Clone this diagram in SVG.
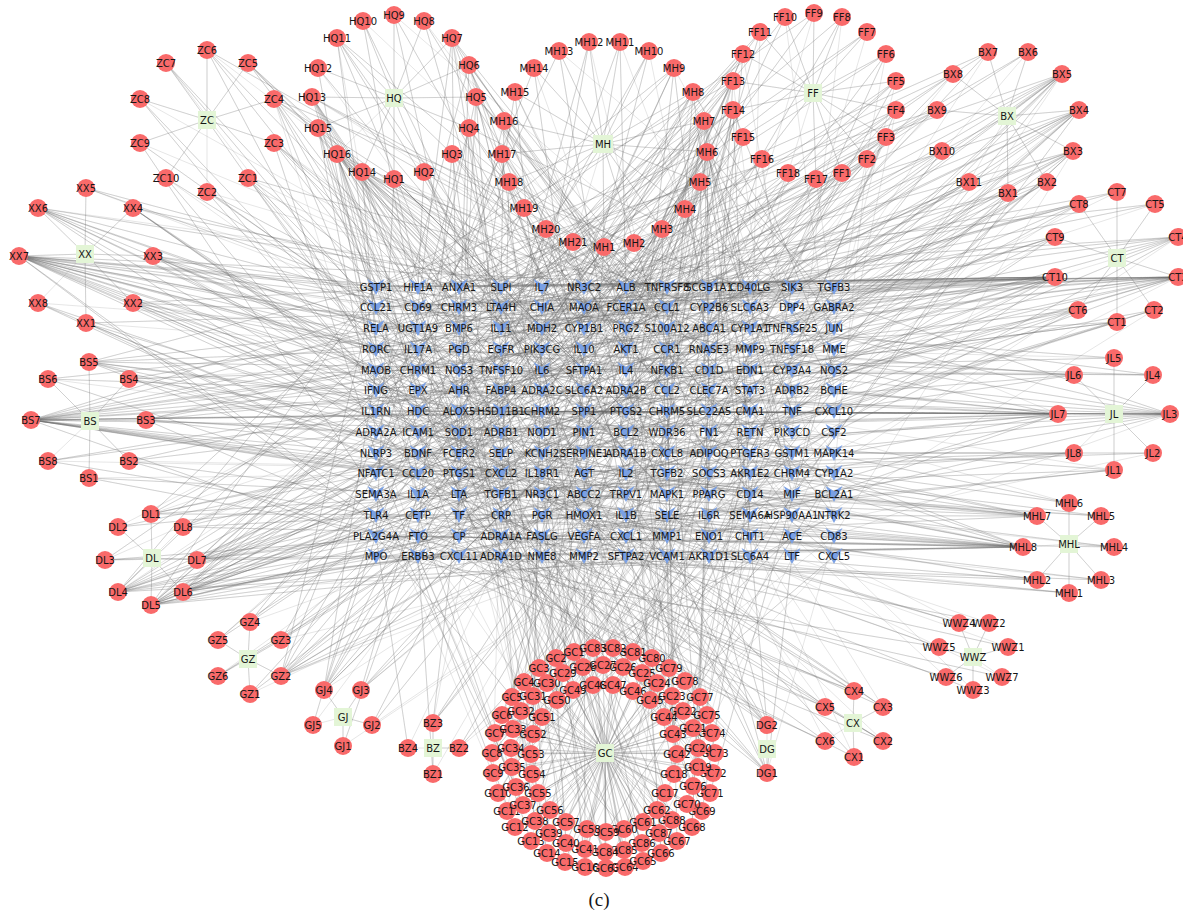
<svg xmlns="http://www.w3.org/2000/svg" xmlns:xlink="http://www.w3.org/1999/xlink" width="1183" height="913" viewBox="0 0 1183 913">
<style>
.e path{fill:none;stroke:#6e6e6e;stroke-opacity:.25;stroke-width:.7;stroke-linejoin:round}
circle{fill:#f96a6a}
.h rect{fill:#e3f5d6}
#v{fill:#7aa0e4}
text{font-family:"DejaVu Sans","Liberation Sans",sans-serif;font-size:10px;text-anchor:middle;fill:#161616}
.cap{font-family:"Liberation Serif",serif;font-size:19px}
</style>
<defs><polygon id="v" points="-8.5,-8 0,-3 8.5,-8 0,8"/></defs>
<rect width="1183" height="913" fill="#fff"/>
<g class="e" id="connectors">
<path d="M207 120L207 50 207 120 166 63 207 120 248 63 207 120 140 99 207 120 274 99 207 120 140 143 207 120 274 143 207 120 166 178 207 120 248 178 207 120 207 192"/>
<path d="M394 98L394 179 394 98 424 172 394 98 452 154 394 98 469 128 394 98 476 97 394 98 469 65 394 98 452 38 394 98 424 21 394 98 394 15 394 98 363 21 394 98 337 38 394 98 318 68 394 98 312 97 394 98 362 172 394 98 318 128 394 98 337 154"/>
<path d="M603 144L604 247 603 144 634 243 603 144 662 229 603 144 685 209 603 144 700 182 603 144 707 152 603 144 704 121 603 144 693 92 603 144 674 68 603 144 649 51 603 144 620 42 603 144 589 42 603 144 559 51 603 144 534 68 603 144 515 92 603 144 504 121 603 144 502 154 603 144 509 182 603 144 524 208 603 144 546 229 603 144 573 242"/>
<path d="M813 93L842 173 813 93 867 159 813 93 886 137 813 93 896 110 813 93 896 81 813 93 886 54 813 93 867 32 813 93 842 17 813 93 814 13 813 93 785 17 813 93 760 32 813 93 743 54 813 93 733 81 813 93 733 110 813 93 743 137 813 93 762 159 813 93 816 179 813 93 788 173"/>
<path d="M1007 116L1008 193 1007 116 1047 182 1007 116 1073 151 1007 116 1079 110 1007 116 1062 74 1007 116 1028 52 1007 116 988 52 1007 116 953 74 1007 116 937 110 1007 116 942 151 1007 116 969 182"/>
<path d="M85 254L86 323 85 254 133 303 85 254 153 256 85 254 133 208 85 254 86 188 85 254 38 208 85 254 19 256 85 254 38 303"/>
<path d="M90 421L89 478 90 421 129 461 90 421 146 420 90 421 129 379 90 421 89 362 90 421 48 379 90 421 31 420 90 421 48 461"/>
<path d="M152 558L151 514 152 558 118 527 152 558 105 560 152 558 118 592 152 558 151 605 152 558 183 592 152 558 197 560 152 558 183 527"/>
<path d="M1117 258L1117 322 1117 258 1154 310 1117 258 1178 277 1117 258 1178 237 1117 258 1155 204 1117 258 1078 310 1117 258 1117 192 1117 258 1079 204 1117 258 1055 237 1117 258 1055 277"/>
<path d="M1114 414L1114 470 1114 414 1153 453 1114 414 1170 414 1114 414 1153 375 1114 414 1114 358 1114 414 1074 375 1114 414 1058 414 1114 414 1074 453"/>
<path d="M1069 544L1069 593 1069 544 1037 580 1069 544 1101 580 1069 544 1114 547 1069 544 1101 516 1069 544 1069 503 1069 544 1037 516 1069 544 1023 547"/>
<path d="M973 657L1008 647 973 657 989 623 973 657 973 690 973 657 959 623 973 657 939 647 973 657 946 677 973 657 1002 677"/>
<path d="M853 723L854 757 853 723 883 741 853 723 883 707 853 723 854 691 853 723 825 707 853 723 825 741"/>
<path d="M767 749L767 773 767 749 767 725"/>
<path d="M248 659L250 694 248 659 281 676 248 659 281 640 248 659 250 622 248 659 218 640 248 659 218 676"/>
<path d="M343 717L343 746 343 717 372 725 343 717 361 690 343 717 324 690 343 717 313 725"/>
<path d="M433 748L433 774 433 748 459 748 433 748 433 723 433 748 408 748"/>
<path d="M605 753L574 652 605 753 556 658 605 753 539 668 605 753 524 682 605 753 512 697 605 753 502 715 605 753 495 733 605 753 492 753 605 753 493 773 605 753 498 793 605 753 507 811 605 753 515 827 605 753 531 841 605 753 547 853 605 753 565 862 605 753 585 867 605 753 665 793 605 753 674 774 605 753 698 767 605 753 698 748 605 753 693 728 605 753 683 711 605 753 672 696 605 753 657 683 605 753 642 673 605 753 623 667 605 753 603 665 605 753 583 667 605 753 563 673 605 753 547 683 605 753 533 696 605 753 521 711 605 753 513 729 605 753 511 748 605 753 512 767 605 753 516 787 605 753 523 805 605 753 535 821 605 753 549 833 605 753 566 843 605 753 585 849 605 753 677 754 605 753 673 734 605 753 664 717 605 753 650 700 605 753 633 691 605 753 613 685 605 753 593 685 605 753 573 690 605 753 557 700 605 753 542 717 605 753 533 734 605 753 531 754 605 753 532 774 605 753 538 793 605 753 550 810 605 753 566 822 605 753 587 829 605 753 606 832 605 753 624 829 605 753 643 822 605 753 657 810 605 753 606 868 605 753 625 867 605 753 643 861 605 753 661 853 605 753 677 841 605 753 692 827 605 753 702 811 605 753 687 804 605 753 710 793 605 753 713 773 605 753 715 753 605 753 712 733 605 753 707 715 605 753 693 786 605 753 700 697 605 753 685 681 605 753 669 668 605 753 652 658 605 753 633 652 605 753 613 648 605 753 593 648 605 753 605 852 605 753 624 850 605 753 642 843 605 753 659 833 605 753 672 820"/>
<path d="M19 256L376 287 19 256 418 328 19 256 459 370 19 256 501 411 19 256 542 453 19 256 584 494 19 256 626 536 19 256 667 307 19 256 709 349 19 256 750 390 19 256 792 432 19 256 834 473 19 256 376 515 19 256 418 556 19 256 459 307 19 256 501 349 19 256 542 390 19 256 584 432 19 256 626 473 19 256 667 515 19 256 709 556 19 256 750 287 19 256 792 328 19 256 834 370"/>
<path d="M38 208L376 328 38 208 418 390 38 208 459 453 38 208 501 515 38 208 542 287 38 208 584 349 38 208 626 411 38 208 667 473 38 208 709 536 38 208 750 307"/>
<path d="M153 256L418 307 153 256 501 411 153 256 584 515 153 256 667 328 153 256 750 432 153 256 834 536 153 256 418 349 153 256 501 453"/>
<path d="M133 208L376 370 133 208 459 432 133 208 542 494 133 208 626 556 133 208 709 328 133 208 792 390"/>
<path d="M133 303L418 287 133 303 501 370 133 303 584 453 133 303 667 536 133 303 750 328 133 303 834 411"/>
<path d="M86 323L376 411 86 323 459 473 86 323 542 536 86 323 626 307 86 323 709 370"/>
<path d="M38 303L418 432 38 303 501 494 38 303 584 556 38 303 667 349"/>
<path d="M86 188L459 287 86 188 542 349 86 188 626 390"/>
<path d="M31 420L376 370 31 420 418 473 31 420 459 287 31 420 501 390 31 420 542 494 31 420 584 307 31 420 626 411 31 420 667 515 31 420 709 328 31 420 750 432 31 420 792 536 31 420 834 349 31 420 376 453 31 420 418 556 31 420 459 370 31 420 501 473 31 420 542 287 31 420 584 390 31 420 626 494 31 420 667 307 31 420 709 411 31 420 750 515 31 420 834 411 31 420 792 411"/>
<path d="M89 362L376 287 89 362 418 349 89 362 459 411 89 362 501 473 89 362 542 536 89 362 584 307 89 362 626 370 89 362 667 432 89 362 709 494 89 362 750 556"/>
<path d="M146 420L376 432 146 420 459 390 146 420 542 349 146 420 626 307 146 420 709 453 146 420 792 494 146 420 418 536 146 420 501 328"/>
<path d="M129 379L418 370 129 379 501 432 129 379 584 494 129 379 667 287 129 379 750 349"/>
<path d="M48 379L376 390 48 379 459 515 48 379 542 328 48 379 626 453"/>
<path d="M129 461L376 494 129 461 459 556 129 461 542 411 129 461 626 349 129 461 709 473"/>
<path d="M48 461L418 411 48 461 501 536 48 461 584 370 48 461 667 473"/>
<path d="M89 478L418 494 89 478 501 556 89 478 584 473"/>
<path d="M151 605L376 411 151 605 418 473 151 605 459 536 151 605 501 307 151 605 542 370 151 605 584 432 151 605 626 494 151 605 667 556 151 605 709 328 151 605 750 390 151 605 792 453 151 605 834 515 151 605 376 287 151 605 418 349 151 605 459 411 151 605 501 473 151 605 542 536 151 605 584 307"/>
<path d="M118 592L376 494 118 592 418 307 118 592 459 411 118 592 501 515 118 592 542 328 118 592 584 432 118 592 626 536 118 592 667 349 118 592 709 453 118 592 750 556 118 592 792 370 118 592 834 473 118 592 376 287 118 592 418 390"/>
<path d="M183 592L834 328 183 592 792 390 183 592 750 453 183 592 709 515 183 592 667 287 183 592 626 349 183 592 584 411 183 592 542 473 183 592 501 536 183 592 459 307 183 592 418 370 183 592 376 432 183 592 834 494 183 592 792 556"/>
<path d="M197 560L376 536 197 560 418 453 197 560 459 328 197 560 501 494 197 560 542 556 197 560 584 515 197 560 626 432 197 560 667 370 197 560 709 287 197 560 750 473"/>
<path d="M151 514L376 307 151 514 459 349 151 514 542 432 151 514 626 515 151 514 709 390 151 514 792 473 151 514 834 287"/>
<path d="M183 527L418 515 183 527 501 390 183 527 584 536 183 527 667 411 183 527 750 307"/>
<path d="M118 527L376 473 118 527 459 494 118 527 542 307"/>
<path d="M105 560L376 556 105 560 418 536 105 560 501 287 105 560 584 349"/>
<path d="M274 99L376 349 274 99 459 432 274 99 542 515 274 99 626 328 274 99 709 411 274 99 792 307 274 99 418 556"/>
<path d="M274 143L376 453 274 143 418 328 274 143 501 370 274 143 584 411 274 143 667 453 274 143 750 494"/>
<path d="M248 178L376 328 248 178 459 473 248 178 542 390 248 178 626 556 248 178 501 515 248 178 709 307 248 178 834 453"/>
<path d="M248 63L418 287 248 63 501 328 248 63 584 370 248 63 667 494 248 63 750 536"/>
<path d="M207 50L376 370 207 50 459 307 207 50 542 473 207 50 626 287 207 50 709 432"/>
<path d="M207 192L418 432 207 192 501 349 207 192 584 453 207 192 667 328"/>
<path d="M166 63L376 287 166 63 459 411 166 63 542 556"/>
<path d="M140 99L418 390 140 99 501 536 140 99 626 370"/>
<path d="M140 143L376 494 140 143 459 370 140 143 584 328"/>
<path d="M166 178L418 473 166 178 542 411 166 178 667 536"/>
<path d="M337 154L376 287 337 154 418 390 337 154 459 494 337 154 501 307 337 154 542 411 337 154 584 515 337 154 626 328 337 154 667 432 337 154 709 536 337 154 750 349 337 154 792 453 337 154 834 556 337 154 376 370 337 154 418 473 337 154 459 287 337 154 501 390"/>
<path d="M362 172L376 349 362 172 418 411 362 172 459 473 362 172 501 536 362 172 542 307 362 172 584 370 362 172 626 432 362 172 667 494 362 172 709 556 362 172 750 328 362 172 792 390 362 172 834 453"/>
<path d="M312 97L376 307 312 97 418 349 312 97 459 390 312 97 501 432 312 97 542 473 312 97 584 515 312 97 626 556 312 97 667 287 312 97 709 328 312 97 750 370"/>
<path d="M452 38L418 307 452 38 501 349 452 38 584 390 452 38 667 432 452 38 750 473 452 38 834 515 452 38 459 536 452 38 542 453"/>
<path d="M469 65L376 411 469 65 459 349 469 65 542 287 469 65 626 473 469 65 709 390 469 65 792 515 469 65 584 556"/>
<path d="M476 97L418 370 476 97 501 453 476 97 584 536 476 97 667 328 476 97 750 411 476 97 834 494 476 97 459 432 476 97 626 307"/>
<path d="M469 128L376 473 469 128 459 515 469 128 542 556 469 128 626 370 469 128 709 453 469 128 792 287 469 128 501 411"/>
<path d="M452 154L418 536 452 154 501 494 452 154 584 328 452 154 667 390 452 154 750 432 452 154 834 349 452 154 542 370"/>
<path d="M394 179L376 536 394 179 459 453 394 179 542 328 394 179 626 411 394 179 709 494 394 179 792 349"/>
<path d="M424 172L418 287 424 172 501 328 424 172 584 473 424 172 667 556 424 172 750 307"/>
<path d="M337 38L376 328 337 38 459 328 337 38 542 370 337 38 626 453 337 38 709 349 337 38 418 515"/>
<path d="M318 68L376 390 318 68 501 287 318 68 584 432"/>
<path d="M318 128L376 432 318 128 418 494 318 128 459 556 318 128 542 494 318 128 626 536"/>
<path d="M394 15L459 307 394 15 584 349 394 15 709 287"/>
<path d="M363 21L418 328 363 21 542 390 363 21 667 307"/>
<path d="M424 21L501 287 424 21 626 349 424 21 750 453"/>
<path d="M707 152L834 307 707 152 792 411 707 152 750 515 707 152 709 328 707 152 667 432 707 152 626 536 707 152 584 349 707 152 542 453 707 152 501 556 707 152 459 370 707 152 418 473 707 152 376 287 707 152 834 390 707 152 792 494 707 152 750 307 707 152 709 411"/>
<path d="M704 121L376 349 704 121 418 390 704 121 459 432 704 121 501 473 704 121 542 515 704 121 584 556 704 121 626 307 704 121 667 349 704 121 709 390 704 121 750 432 704 121 792 473 704 121 834 515"/>
<path d="M700 182L376 453 700 182 459 328 700 182 542 494 700 182 626 370 700 182 709 536 700 182 792 411 700 182 418 287 700 182 501 411 700 182 584 536 700 182 667 328"/>
<path d="M685 209L376 515 685 209 459 390 685 209 542 556 685 209 626 432 685 209 709 307 685 209 792 473 685 209 834 349 685 209 501 349"/>
<path d="M693 92L418 411 693 92 501 494 693 92 584 287 693 92 667 453 693 92 750 536 693 92 834 328 693 92 459 473 693 92 626 390"/>
<path d="M674 68L376 307 674 68 459 536 674 68 542 349 674 68 626 494 674 68 709 370 674 68 792 287"/>
<path d="M662 229L418 515 662 229 501 307 662 229 584 473 662 229 667 556 662 229 750 411 662 229 834 453"/>
<path d="M634 243L376 556 634 243 459 494 634 243 542 432 634 243 709 473 634 243 792 328"/>
<path d="M604 247L418 453 604 247 501 390 604 247 584 494 604 247 667 536 604 247 750 370"/>
<path d="M573 242L376 328 573 242 459 411 573 242 542 328 573 242 626 515 573 242 834 536"/>
<path d="M546 229L418 556 546 229 501 432 546 229 584 370 546 229 667 473 546 229 750 287"/>
<path d="M524 208L376 411 524 208 459 349 524 208 626 473 524 208 709 515"/>
<path d="M509 182L418 328 509 182 501 536 509 182 584 411 509 182 667 494 509 182 792 370"/>
<path d="M502 154L376 390 502 154 542 473 502 154 626 349 502 154 709 453 502 154 834 556"/>
<path d="M504 121L418 494 504 121 501 287 504 121 584 328 504 121 750 494 504 121 792 536"/>
<path d="M515 92L459 453 515 92 542 370 515 92 667 411 515 92 750 556"/>
<path d="M534 68L376 473 534 68 584 432 534 68 709 556"/>
<path d="M559 51L418 349 559 51 626 453 559 51 834 287"/>
<path d="M589 42L459 515 589 42 542 307 589 42 667 370"/>
<path d="M620 42L501 370 620 42 626 287 620 42 750 390"/>
<path d="M649 51L376 536 649 51 584 307 649 51 709 349"/>
<path d="M733 81L376 287 733 81 418 370 733 81 459 453 733 81 501 536 733 81 542 328 733 81 584 411 733 81 626 494 733 81 667 287 733 81 709 473 733 81 792 556"/>
<path d="M733 110L376 390 733 110 459 307 733 110 501 494 733 110 584 349 733 110 626 556 733 110 667 411 733 110 750 515 733 110 834 370 733 110 418 536"/>
<path d="M743 54L376 494 743 54 459 370 743 54 542 536 743 54 626 328 743 54 709 432 743 54 792 349"/>
<path d="M842 173L418 307 842 173 501 515 842 173 584 390 842 173 667 515 842 173 750 328"/>
<path d="M867 159L376 432 867 159 459 556 867 159 542 390 867 159 626 411 867 159 709 287 867 159 834 473"/>
<path d="M886 137L418 473 886 137 501 349 886 137 584 515 886 137 667 307 886 137 750 453 886 137 792 307"/>
<path d="M896 110L376 349 896 110 459 432 896 110 542 515 896 110 709 556 896 110 834 411"/>
<path d="M896 81L418 411 896 81 501 453 896 81 626 307 896 81 750 349 896 81 792 494"/>
<path d="M886 54L459 328 886 54 584 453 886 54 667 536 886 54 834 328"/>
<path d="M867 32L376 370 867 32 542 287 867 32 750 432"/>
<path d="M842 17L501 307 842 17 626 390 842 17 792 432"/>
<path d="M814 13L418 287 814 13 584 328 814 13 709 370"/>
<path d="M785 17L459 411 785 17 626 349 785 17 834 390"/>
<path d="M760 32L376 453 760 32 501 390 760 32 667 349 760 32 750 411"/>
<path d="M743 137L418 556 743 137 542 432 743 137 626 473 743 137 709 328"/>
<path d="M762 159L376 536 762 159 459 473 762 159 542 349 762 159 667 453 762 159 792 390"/>
<path d="M816 179L501 556 816 179 584 494 816 179 709 411 816 179 834 307"/>
<path d="M788 173L418 349 788 173 542 473 788 173 626 536 788 173 750 307"/>
<path d="M1062 74L376 307 1062 74 418 370 1062 74 459 432 1062 74 501 494 1062 74 542 556 1062 74 584 328 1062 74 626 390 1062 74 667 453 1062 74 709 515 1062 74 750 287 1062 74 792 349 1062 74 834 411"/>
<path d="M1079 110L376 328 1079 110 418 432 1079 110 459 536 1079 110 501 349 1079 110 542 453 1079 110 584 556 1079 110 626 370 1079 110 667 473 1079 110 709 287 1079 110 750 390 1079 110 792 494 1079 110 834 307"/>
<path d="M1073 151L376 411 1073 151 418 515 1073 151 501 307 1073 151 542 411 1073 151 584 515 1073 151 626 307 1073 151 667 390 1073 151 709 494 1073 151 792 411 1073 151 834 536"/>
<path d="M1047 182L376 473 1047 182 459 349 1047 182 542 494 1047 182 626 432 1047 182 709 370 1047 182 792 453"/>
<path d="M1008 193L418 328 1008 193 501 390 1008 193 584 473 1008 193 667 515 1008 193 750 556 1008 193 834 349"/>
<path d="M969 182L376 556 969 182 459 494 969 182 584 370 969 182 667 328 969 182 750 473"/>
<path d="M942 151L418 390 942 151 501 473 942 151 626 328 942 151 709 453 942 151 792 287"/>
<path d="M937 110L376 287 937 110 459 390 937 110 542 307 937 110 667 370"/>
<path d="M953 74L418 453 953 74 501 287 953 74 626 411 953 74 750 328"/>
<path d="M988 52L459 287 988 52 584 307 988 52 709 349 988 52 834 287"/>
<path d="M1028 52L542 370 1028 52 626 287 1028 52 792 328"/>
<path d="M1055 277L376 287 1055 277 418 287 1055 277 459 287 1055 277 501 287 1055 277 542 287 1055 277 376 307 1055 277 418 307 1055 277 501 307 1055 277 584 307 1055 277 376 328 1055 277 459 328 1055 277 542 349 1055 277 626 349 1055 277 418 370 1055 277 501 390 1055 277 584 411 1055 277 667 432 1055 277 459 453 1055 277 542 473 1055 277 626 494 1055 277 709 515 1055 277 501 536"/>
<path d="M1178 277L376 287 1178 277 459 287 1178 277 584 287 1178 277 667 287 1178 277 376 307 1178 277 459 307 1178 277 542 307 1178 277 418 328 1178 277 501 328 1178 277 584 349 1178 277 376 370 1178 277 459 390 1178 277 542 411 1178 277 626 432 1178 277 418 453 1178 277 501 473 1178 277 584 494 1178 277 667 536"/>
<path d="M1178 237L376 287 1178 237 418 307 1178 237 501 328 1178 237 542 370 1178 237 626 390 1178 237 709 432 1178 237 750 473 1178 237 792 494"/>
<path d="M1079 204L376 349 1079 204 459 370 1079 204 542 432 1079 204 626 453 1079 204 709 307 1079 204 792 390"/>
<path d="M1055 237L418 349 1055 237 501 411 1055 237 584 453 1055 237 667 494 1055 237 750 328 1055 237 834 370"/>
<path d="M1078 310L376 390 1078 310 459 432 1078 310 542 494 1078 310 626 536 1078 310 709 411 1078 310 792 307"/>
<path d="M1117 322L418 411 1117 322 501 515 1117 322 584 390 1117 322 667 349 1117 322 750 432"/>
<path d="M1154 310L376 453 1154 310 459 515 1154 310 626 473 1154 310 792 536"/>
<path d="M1155 204L418 287 1155 204 542 328 1155 204 709 349"/>
<path d="M1117 192L501 307 1117 192 626 328 1117 192 750 370"/>
<path d="M1170 414L376 411 1170 414 418 411 1170 414 459 411 1170 414 501 411 1170 414 376 390 1170 414 418 432 1170 414 459 370 1170 414 501 453 1170 414 542 349 1170 414 584 473 1170 414 626 328 1170 414 667 494 1170 414 709 307 1170 414 750 515 1170 414 792 287 1170 414 834 536"/>
<path d="M1058 414L376 432 1058 414 418 390 1058 414 459 411 1058 414 501 432 1058 414 542 390 1058 414 584 411 1058 414 376 411 1058 414 418 473 1058 414 459 349 1058 414 501 515 1058 414 542 307 1058 414 584 556 1058 414 626 370 1058 414 667 453 1058 414 709 536 1058 414 750 287"/>
<path d="M1074 375L376 370 1074 375 459 328 1074 375 542 453 1074 375 626 411 1074 375 709 349"/>
<path d="M1074 453L376 473 1074 453 459 494 1074 453 542 536 1074 453 626 453 1074 453 709 473"/>
<path d="M1114 470L418 494 1114 470 501 536 1114 470 584 432 1114 470 667 515 1114 470 750 411"/>
<path d="M1114 358L418 307 1114 358 584 370 1114 358 750 349"/>
<path d="M1153 375L376 349 1153 375 501 370 1153 375 626 307 1153 375 792 370"/>
<path d="M1153 453L418 453 1153 453 542 473 1153 453 667 556"/>
<path d="M1023 547L376 494 1023 547 376 515 1023 547 376 536 1023 547 376 556 1023 547 418 515 1023 547 418 536 1023 547 459 494 1023 547 459 556 1023 547 501 515 1023 547 501 556 1023 547 542 536 1023 547 584 494 1023 547 584 515 1023 547 626 556 1023 547 418 432 1023 547 459 390 1023 547 501 349 1023 547 542 453 1023 547 626 411 1023 547 667 473"/>
<path d="M1037 516L376 453 1037 516 418 473 1037 516 459 515 1037 516 501 494 1037 516 542 473 1037 516 584 536 1037 516 376 390 1037 516 459 432 1037 516 542 411 1037 516 626 473"/>
<path d="M1037 580L376 556 1037 580 501 536 1037 580 626 515 1037 580 750 536"/>
<path d="M1101 580L418 556 1101 580 542 515 1101 580 667 536"/>
<path d="M1101 516L459 473 1101 516 584 453 1101 516 709 494"/>
<path d="M1069 503L418 370 1069 503 542 432 1069 503 667 390"/>
<path d="M1114 547L376 536 1114 547 501 473 1114 547 626 494"/>
<path d="M1069 593L459 536 1069 593 584 556 1069 593 709 556"/>
<path d="M959 623L459 473 959 623 584 515 959 623 709 494"/>
<path d="M989 623L542 536 989 623 667 515"/>
<path d="M939 647L376 556 939 647 501 494 939 647 626 536"/>
<path d="M1008 647L418 515 1008 647 750 556"/>
<path d="M946 677L542 556 946 677 792 536"/>
<path d="M1002 677L459 556 1002 677 709 536"/>
<path d="M973 690L584 536 973 690 834 556"/>
<path d="M854 691L376 515 854 691 459 536 854 691 542 494 854 691 626 556 854 691 709 473"/>
<path d="M825 707L418 536 825 707 501 556 825 707 584 515 825 707 667 494"/>
<path d="M883 707L459 515 883 707 542 473 883 707 626 536 883 707 750 494"/>
<path d="M883 741L376 536 883 741 501 515 883 741 584 556 883 741 667 536"/>
<path d="M825 741L418 556 825 741 542 536 825 741 709 515"/>
<path d="M854 757L459 556 854 757 626 515 854 757 750 536"/>
<path d="M767 725L376 453 767 725 459 473 767 725 542 494 767 725 584 515 767 725 626 536 767 725 667 556 767 725 709 515 767 725 750 536 767 725 501 432"/>
<path d="M767 773L418 494 767 773 501 515 767 773 542 536 767 773 584 556 767 773 626 494 767 773 667 536 767 773 709 556 767 773 792 556 767 773 834 536"/>
<path d="M281 676L376 287 281 676 418 328 281 676 459 370 281 676 501 411 281 676 542 453 281 676 584 494 281 676 626 536 281 676 667 307 281 676 709 349 281 676 750 390 281 676 792 432 281 676 834 473"/>
<path d="M281 640L376 473 281 640 459 515 281 640 542 390 281 640 626 432 281 640 709 536"/>
<path d="M250 622L418 411 250 622 501 453 250 622 584 328 250 622 667 473"/>
<path d="M218 640L376 536 218 640 459 432 218 640 542 349"/>
<path d="M218 676L418 556 218 676 501 494 218 676 584 411"/>
<path d="M250 694L376 556 250 694 459 536 250 694 626 515"/>
<path d="M324 690L376 370 324 690 418 411 324 690 459 453 324 690 501 328 324 690 542 432 324 690 584 287 324 690 626 390 324 690 667 349 324 690 750 411"/>
<path d="M361 690L418 494 361 690 501 536 361 690 584 473 361 690 667 432 361 690 750 370"/>
<path d="M372 725L459 556 372 725 542 515 372 725 709 494"/>
<path d="M313 725L376 515 313 725 501 473"/>
<path d="M343 746L418 536 343 746 626 556"/>
<path d="M433 723L459 494 433 723 542 556 433 723 626 473 433 723 709 390 433 723 501 370"/>
<path d="M459 748L584 536 459 748 667 515 459 748 792 473"/>
<path d="M408 748L376 536 408 748 501 556"/>
<path d="M433 774L418 556 433 774 584 515"/>
<path d="M574 652L418 349 574 652 667 515"/>
<path d="M556 658L459 411 556 658 459 328"/>
<path d="M539 668L501 473 539 668 750 432"/>
<path d="M524 682L542 536 524 682 584 536"/>
<path d="M512 697L584 307 512 697 834 349"/>
<path d="M502 715L626 370 502 715 626 453"/>
<path d="M495 733L667 432 495 733 418 556"/>
<path d="M492 753L709 494 492 753 709 370"/>
<path d="M493 773L750 556 493 773 501 473"/>
<path d="M498 793L792 328 498 793 792 287"/>
<path d="M507 811L834 390 507 811 584 390"/>
<path d="M515 827L376 453 515 827 376 494"/>
<path d="M531 841L418 515 531 841 667 307"/>
<path d="M547 853L459 287 547 853 459 411"/>
<path d="M565 862L501 349 565 862 750 515"/>
<path d="M585 867L542 411 585 867 542 328"/>
<path d="M665 793L584 473 665 793 834 432"/>
<path d="M674 774L626 536 674 774 667 536"/>
<path d="M698 767L667 307 698 767 418 349"/>
<path d="M698 748L709 370 698 748 709 453"/>
<path d="M693 728L750 432 693 728 501 556"/>
<path d="M683 711L792 494 683 711 792 370"/>
<path d="M672 696L834 556 672 696 584 473"/>
<path d="M657 683L376 328 657 683 376 287"/>
<path d="M642 673L418 390 642 673 667 390"/>
<path d="M623 667L459 453 623 667 459 494"/>
<path d="M603 665L501 515 603 665 750 307"/>
<path d="M583 667L542 287 583 667 542 411"/>
<path d="M563 673L584 349 563 673 834 515"/>
<path d="M547 683L626 411 547 683 626 328"/>
<path d="M533 696L667 473 533 696 418 432"/>
<path d="M521 711L709 536 521 711 750 536"/>
<path d="M513 729L750 307 513 729 501 349"/>
<path d="M511 748L792 370 511 748 792 453"/>
<path d="M512 767L834 432 512 767 584 556"/>
<path d="M516 787L376 494 516 787 376 370"/>
<path d="M523 805L418 556 523 805 667 473"/>
<path d="M535 821L459 328 535 821 459 287"/>
<path d="M549 833L501 390 549 833 750 390"/>
<path d="M566 843L542 453 566 843 542 494"/>
<path d="M585 849L584 515 585 849 834 307"/>
<path d="M677 754L626 287 677 754 626 411"/>
<path d="M673 734L667 349 673 734 418 515"/>
<path d="M664 717L709 411 664 717 709 328"/>
<path d="M650 700L750 473 650 700 501 432"/>
<path d="M633 691L792 536 633 691 834 536"/>
<path d="M613 685L834 307 613 685 584 349"/>
<path d="M593 685L376 370 593 685 376 453"/>
<path d="M573 690L418 432 573 690 667 556"/>
<path d="M557 700L459 494 557 700 459 370"/>
<path d="M542 717L501 556 542 717 750 473"/>
<path d="M533 734L542 328 533 734 542 287"/>
<path d="M531 754L584 390 531 754 834 390"/>
<path d="M532 774L626 453 532 774 626 494"/>
<path d="M538 793L667 515 538 793 418 307"/>
<path d="M550 810L709 287 550 810 709 411"/>
<path d="M566 822L750 349 566 822 501 515"/>
<path d="M587 829L792 411 587 829 792 328"/>
<path d="M606 832L834 473 606 832 584 432"/>
<path d="M624 829L376 536 624 829 418 536"/>
<path d="M643 822L418 307 643 822 667 349"/>
<path d="M657 810L459 370 657 810 459 453"/>
<path d="M606 868L501 432 606 868 750 556"/>
<path d="M625 867L542 494 625 867 542 370"/>
<path d="M643 861L584 556 643 861 834 473"/>
<path d="M661 853L626 328 661 853 626 287"/>
<path d="M677 841L667 390 677 841 418 390"/>
<path d="M692 827L709 453 692 827 709 494"/>
<path d="M702 811L750 515 702 811 501 307"/>
<path d="M687 804L792 287 687 804 792 411"/>
<path d="M710 793L834 349 710 793 584 515"/>
<path d="M713 773L376 411 713 773 376 328"/>
<path d="M715 753L418 473 715 753 667 432"/>
<path d="M712 733L459 536 712 733 501 536"/>
<path d="M707 715L501 307 707 715 750 349"/>
<path d="M693 786L542 370 693 786 542 453"/>
<path d="M700 697L584 432 700 697 834 556"/>
<path d="M685 681L626 494 685 681 626 370"/>
<path d="M669 668L667 556 669 668 418 473"/>
<path d="M652 658L709 328 652 658 709 287"/>
<path d="M633 652L750 390 633 652 501 390"/>
<path d="M613 648L792 453 613 648 792 494"/>
<path d="M593 648L834 515 593 648 584 307"/>
<path d="M605 852L376 287 605 852 376 411"/>
<path d="M624 850L418 349 624 850 667 515"/>
<path d="M642 843L459 411 642 843 459 328"/>
<path d="M659 833L501 473 659 833 750 432"/>
<path d="M672 820L542 536 672 820 584 536"/>
</g>
<g id="targets">
<g id="t-GSTP1" transform="translate(376,287)"><use href="#v"/><text y="3.5">GSTP1</text></g>
<g id="t-HIF1A" transform="translate(418,287)"><use href="#v"/><text y="3.5">HIF1A</text></g>
<g id="t-ANXA1" transform="translate(459,287)"><use href="#v"/><text y="3.5">ANXA1</text></g>
<g id="t-SLPI" transform="translate(501,287)"><use href="#v"/><text y="3.5">SLPI</text></g>
<g id="t-IL7" transform="translate(542,287)"><use href="#v"/><text y="3.5">IL7</text></g>
<g id="t-NR3C2" transform="translate(584,287)"><use href="#v"/><text y="3.5">NR3C2</text></g>
<g id="t-ALB" transform="translate(626,287)"><use href="#v"/><text y="3.5">ALB</text></g>
<g id="t-TNFRSF8" transform="translate(667,287)"><use href="#v"/><text y="3.5">TNFRSF8</text></g>
<g id="t-SCGB1A1" transform="translate(709,287)"><use href="#v"/><text y="3.5">SCGB1A1</text></g>
<g id="t-CD40LG" transform="translate(750,287)"><use href="#v"/><text y="3.5">CD40LG</text></g>
<g id="t-SIK3" transform="translate(792,287)"><use href="#v"/><text y="3.5">SIK3</text></g>
<g id="t-TGFB3" transform="translate(834,287)"><use href="#v"/><text y="3.5">TGFB3</text></g>
<g id="t-CCL21" transform="translate(376,307)"><use href="#v"/><text y="3.5">CCL21</text></g>
<g id="t-CD69" transform="translate(418,307)"><use href="#v"/><text y="3.5">CD69</text></g>
<g id="t-CHRM3" transform="translate(459,307)"><use href="#v"/><text y="3.5">CHRM3</text></g>
<g id="t-LTA4H" transform="translate(501,307)"><use href="#v"/><text y="3.5">LTA4H</text></g>
<g id="t-CHIA" transform="translate(542,307)"><use href="#v"/><text y="3.5">CHIA</text></g>
<g id="t-MAOA" transform="translate(584,307)"><use href="#v"/><text y="3.5">MAOA</text></g>
<g id="t-FCER1A" transform="translate(626,307)"><use href="#v"/><text y="3.5">FCER1A</text></g>
<g id="t-CCL1" transform="translate(667,307)"><use href="#v"/><text y="3.5">CCL1</text></g>
<g id="t-CYP2B6" transform="translate(709,307)"><use href="#v"/><text y="3.5">CYP2B6</text></g>
<g id="t-SLC6A3" transform="translate(750,307)"><use href="#v"/><text y="3.5">SLC6A3</text></g>
<g id="t-DPP4" transform="translate(792,307)"><use href="#v"/><text y="3.5">DPP4</text></g>
<g id="t-GABRA2" transform="translate(834,307)"><use href="#v"/><text y="3.5">GABRA2</text></g>
<g id="t-RELA" transform="translate(376,328)"><use href="#v"/><text y="3.5">RELA</text></g>
<g id="t-UGT1A9" transform="translate(418,328)"><use href="#v"/><text y="3.5">UGT1A9</text></g>
<g id="t-BMP6" transform="translate(459,328)"><use href="#v"/><text y="3.5">BMP6</text></g>
<g id="t-IL11" transform="translate(501,328)"><use href="#v"/><text y="3.5">IL11</text></g>
<g id="t-MDH2" transform="translate(542,328)"><use href="#v"/><text y="3.5">MDH2</text></g>
<g id="t-CYP1B1" transform="translate(584,328)"><use href="#v"/><text y="3.5">CYP1B1</text></g>
<g id="t-PRG2" transform="translate(626,328)"><use href="#v"/><text y="3.5">PRG2</text></g>
<g id="t-S100A12" transform="translate(667,328)"><use href="#v"/><text y="3.5">S100A12</text></g>
<g id="t-ABCA1" transform="translate(709,328)"><use href="#v"/><text y="3.5">ABCA1</text></g>
<g id="t-CYP1A1" transform="translate(750,328)"><use href="#v"/><text y="3.5">CYP1A1</text></g>
<g id="t-TNFRSF25" transform="translate(792,328)"><use href="#v"/><text y="3.5">TNFRSF25</text></g>
<g id="t-JUN" transform="translate(834,328)"><use href="#v"/><text y="3.5">JUN</text></g>
<g id="t-RORC" transform="translate(376,349)"><use href="#v"/><text y="3.5">RORC</text></g>
<g id="t-IL17A" transform="translate(418,349)"><use href="#v"/><text y="3.5">IL17A</text></g>
<g id="t-PGD" transform="translate(459,349)"><use href="#v"/><text y="3.5">PGD</text></g>
<g id="t-EGFR" transform="translate(501,349)"><use href="#v"/><text y="3.5">EGFR</text></g>
<g id="t-PIK3CG" transform="translate(542,349)"><use href="#v"/><text y="3.5">PIK3CG</text></g>
<g id="t-IL10" transform="translate(584,349)"><use href="#v"/><text y="3.5">IL10</text></g>
<g id="t-AKT1" transform="translate(626,349)"><use href="#v"/><text y="3.5">AKT1</text></g>
<g id="t-CCR1" transform="translate(667,349)"><use href="#v"/><text y="3.5">CCR1</text></g>
<g id="t-RNASE3" transform="translate(709,349)"><use href="#v"/><text y="3.5">RNASE3</text></g>
<g id="t-MMP9" transform="translate(750,349)"><use href="#v"/><text y="3.5">MMP9</text></g>
<g id="t-TNFSF18" transform="translate(792,349)"><use href="#v"/><text y="3.5">TNFSF18</text></g>
<g id="t-MME" transform="translate(834,349)"><use href="#v"/><text y="3.5">MME</text></g>
<g id="t-MAOB" transform="translate(376,370)"><use href="#v"/><text y="3.5">MAOB</text></g>
<g id="t-CHRM1" transform="translate(418,370)"><use href="#v"/><text y="3.5">CHRM1</text></g>
<g id="t-NOS3" transform="translate(459,370)"><use href="#v"/><text y="3.5">NOS3</text></g>
<g id="t-TNFSF10" transform="translate(501,370)"><use href="#v"/><text y="3.5">TNFSF10</text></g>
<g id="t-IL6" transform="translate(542,370)"><use href="#v"/><text y="3.5">IL6</text></g>
<g id="t-SFTPA1" transform="translate(584,370)"><use href="#v"/><text y="3.5">SFTPA1</text></g>
<g id="t-IL4" transform="translate(626,370)"><use href="#v"/><text y="3.5">IL4</text></g>
<g id="t-NFKB1" transform="translate(667,370)"><use href="#v"/><text y="3.5">NFKB1</text></g>
<g id="t-CD1D" transform="translate(709,370)"><use href="#v"/><text y="3.5">CD1D</text></g>
<g id="t-EDN1" transform="translate(750,370)"><use href="#v"/><text y="3.5">EDN1</text></g>
<g id="t-CYP3A4" transform="translate(792,370)"><use href="#v"/><text y="3.5">CYP3A4</text></g>
<g id="t-NOS2" transform="translate(834,370)"><use href="#v"/><text y="3.5">NOS2</text></g>
<g id="t-IFNG" transform="translate(376,390)"><use href="#v"/><text y="3.5">IFNG</text></g>
<g id="t-EPX" transform="translate(418,390)"><use href="#v"/><text y="3.5">EPX</text></g>
<g id="t-AHR" transform="translate(459,390)"><use href="#v"/><text y="3.5">AHR</text></g>
<g id="t-FABP4" transform="translate(501,390)"><use href="#v"/><text y="3.5">FABP4</text></g>
<g id="t-ADRA2C" transform="translate(542,390)"><use href="#v"/><text y="3.5">ADRA2C</text></g>
<g id="t-SLC6A2" transform="translate(584,390)"><use href="#v"/><text y="3.5">SLC6A2</text></g>
<g id="t-ADRA2B" transform="translate(626,390)"><use href="#v"/><text y="3.5">ADRA2B</text></g>
<g id="t-CCL2" transform="translate(667,390)"><use href="#v"/><text y="3.5">CCL2</text></g>
<g id="t-CLEC7A" transform="translate(709,390)"><use href="#v"/><text y="3.5">CLEC7A</text></g>
<g id="t-STAT3" transform="translate(750,390)"><use href="#v"/><text y="3.5">STAT3</text></g>
<g id="t-ADRB2" transform="translate(792,390)"><use href="#v"/><text y="3.5">ADRB2</text></g>
<g id="t-BCHE" transform="translate(834,390)"><use href="#v"/><text y="3.5">BCHE</text></g>
<g id="t-IL1RN" transform="translate(376,411)"><use href="#v"/><text y="3.5">IL1RN</text></g>
<g id="t-HDC" transform="translate(418,411)"><use href="#v"/><text y="3.5">HDC</text></g>
<g id="t-ALOX5" transform="translate(459,411)"><use href="#v"/><text y="3.5">ALOX5</text></g>
<g id="t-HSD11B1" transform="translate(501,411)"><use href="#v"/><text y="3.5">HSD11B1</text></g>
<g id="t-CHRM2" transform="translate(542,411)"><use href="#v"/><text y="3.5">CHRM2</text></g>
<g id="t-SPP1" transform="translate(584,411)"><use href="#v"/><text y="3.5">SPP1</text></g>
<g id="t-PTGS2" transform="translate(626,411)"><use href="#v"/><text y="3.5">PTGS2</text></g>
<g id="t-CHRM5" transform="translate(667,411)"><use href="#v"/><text y="3.5">CHRM5</text></g>
<g id="t-SLC22A5" transform="translate(709,411)"><use href="#v"/><text y="3.5">SLC22A5</text></g>
<g id="t-CMA1" transform="translate(750,411)"><use href="#v"/><text y="3.5">CMA1</text></g>
<g id="t-TNF" transform="translate(792,411)"><use href="#v"/><text y="3.5">TNF</text></g>
<g id="t-CXCL10" transform="translate(834,411)"><use href="#v"/><text y="3.5">CXCL10</text></g>
<g id="t-ADRA2A" transform="translate(376,432)"><use href="#v"/><text y="3.5">ADRA2A</text></g>
<g id="t-ICAM1" transform="translate(418,432)"><use href="#v"/><text y="3.5">ICAM1</text></g>
<g id="t-SOD1" transform="translate(459,432)"><use href="#v"/><text y="3.5">SOD1</text></g>
<g id="t-ADRB1" transform="translate(501,432)"><use href="#v"/><text y="3.5">ADRB1</text></g>
<g id="t-NOD1" transform="translate(542,432)"><use href="#v"/><text y="3.5">NOD1</text></g>
<g id="t-PIN1" transform="translate(584,432)"><use href="#v"/><text y="3.5">PIN1</text></g>
<g id="t-BCL2" transform="translate(626,432)"><use href="#v"/><text y="3.5">BCL2</text></g>
<g id="t-WDR36" transform="translate(667,432)"><use href="#v"/><text y="3.5">WDR36</text></g>
<g id="t-FN1" transform="translate(709,432)"><use href="#v"/><text y="3.5">FN1</text></g>
<g id="t-RETN" transform="translate(750,432)"><use href="#v"/><text y="3.5">RETN</text></g>
<g id="t-PIK3CD" transform="translate(792,432)"><use href="#v"/><text y="3.5">PIK3CD</text></g>
<g id="t-CSF2" transform="translate(834,432)"><use href="#v"/><text y="3.5">CSF2</text></g>
<g id="t-NLRP3" transform="translate(376,453)"><use href="#v"/><text y="3.5">NLRP3</text></g>
<g id="t-BDNF" transform="translate(418,453)"><use href="#v"/><text y="3.5">BDNF</text></g>
<g id="t-FCER2" transform="translate(459,453)"><use href="#v"/><text y="3.5">FCER2</text></g>
<g id="t-SELP" transform="translate(501,453)"><use href="#v"/><text y="3.5">SELP</text></g>
<g id="t-KCNH2" transform="translate(542,453)"><use href="#v"/><text y="3.5">KCNH2</text></g>
<g id="t-SERPINE1" transform="translate(584,453)"><use href="#v"/><text y="3.5">SERPINE1</text></g>
<g id="t-ADRA1B" transform="translate(626,453)"><use href="#v"/><text y="3.5">ADRA1B</text></g>
<g id="t-CXCL8" transform="translate(667,453)"><use href="#v"/><text y="3.5">CXCL8</text></g>
<g id="t-ADIPOQ" transform="translate(709,453)"><use href="#v"/><text y="3.5">ADIPOQ</text></g>
<g id="t-PTGER3" transform="translate(750,453)"><use href="#v"/><text y="3.5">PTGER3</text></g>
<g id="t-GSTM1" transform="translate(792,453)"><use href="#v"/><text y="3.5">GSTM1</text></g>
<g id="t-MAPK14" transform="translate(834,453)"><use href="#v"/><text y="3.5">MAPK14</text></g>
<g id="t-NFATC1" transform="translate(376,473)"><use href="#v"/><text y="3.5">NFATC1</text></g>
<g id="t-CCL20" transform="translate(418,473)"><use href="#v"/><text y="3.5">CCL20</text></g>
<g id="t-PTGS1" transform="translate(459,473)"><use href="#v"/><text y="3.5">PTGS1</text></g>
<g id="t-CXCL2" transform="translate(501,473)"><use href="#v"/><text y="3.5">CXCL2</text></g>
<g id="t-IL18R1" transform="translate(542,473)"><use href="#v"/><text y="3.5">IL18R1</text></g>
<g id="t-AGT" transform="translate(584,473)"><use href="#v"/><text y="3.5">AGT</text></g>
<g id="t-IL2" transform="translate(626,473)"><use href="#v"/><text y="3.5">IL2</text></g>
<g id="t-TGFB2" transform="translate(667,473)"><use href="#v"/><text y="3.5">TGFB2</text></g>
<g id="t-SOCS3" transform="translate(709,473)"><use href="#v"/><text y="3.5">SOCS3</text></g>
<g id="t-AKR1E2" transform="translate(750,473)"><use href="#v"/><text y="3.5">AKR1E2</text></g>
<g id="t-CHRM4" transform="translate(792,473)"><use href="#v"/><text y="3.5">CHRM4</text></g>
<g id="t-CYP1A2" transform="translate(834,473)"><use href="#v"/><text y="3.5">CYP1A2</text></g>
<g id="t-SEMA3A" transform="translate(376,494)"><use href="#v"/><text y="3.5">SEMA3A</text></g>
<g id="t-IL1A" transform="translate(418,494)"><use href="#v"/><text y="3.5">IL1A</text></g>
<g id="t-LTA" transform="translate(459,494)"><use href="#v"/><text y="3.5">LTA</text></g>
<g id="t-TGFB1" transform="translate(501,494)"><use href="#v"/><text y="3.5">TGFB1</text></g>
<g id="t-NR3C1" transform="translate(542,494)"><use href="#v"/><text y="3.5">NR3C1</text></g>
<g id="t-ABCC2" transform="translate(584,494)"><use href="#v"/><text y="3.5">ABCC2</text></g>
<g id="t-TRPV1" transform="translate(626,494)"><use href="#v"/><text y="3.5">TRPV1</text></g>
<g id="t-MAPK1" transform="translate(667,494)"><use href="#v"/><text y="3.5">MAPK1</text></g>
<g id="t-PPARG" transform="translate(709,494)"><use href="#v"/><text y="3.5">PPARG</text></g>
<g id="t-CD14" transform="translate(750,494)"><use href="#v"/><text y="3.5">CD14</text></g>
<g id="t-MIF" transform="translate(792,494)"><use href="#v"/><text y="3.5">MIF</text></g>
<g id="t-BCL2A1" transform="translate(834,494)"><use href="#v"/><text y="3.5">BCL2A1</text></g>
<g id="t-TLR4" transform="translate(376,515)"><use href="#v"/><text y="3.5">TLR4</text></g>
<g id="t-CETP" transform="translate(418,515)"><use href="#v"/><text y="3.5">CETP</text></g>
<g id="t-TF" transform="translate(459,515)"><use href="#v"/><text y="3.5">TF</text></g>
<g id="t-CRP" transform="translate(501,515)"><use href="#v"/><text y="3.5">CRP</text></g>
<g id="t-PGR" transform="translate(542,515)"><use href="#v"/><text y="3.5">PGR</text></g>
<g id="t-HMOX1" transform="translate(584,515)"><use href="#v"/><text y="3.5">HMOX1</text></g>
<g id="t-IL1B" transform="translate(626,515)"><use href="#v"/><text y="3.5">IL1B</text></g>
<g id="t-SELE" transform="translate(667,515)"><use href="#v"/><text y="3.5">SELE</text></g>
<g id="t-IL6R" transform="translate(709,515)"><use href="#v"/><text y="3.5">IL6R</text></g>
<g id="t-SEMA6A" transform="translate(750,515)"><use href="#v"/><text y="3.5">SEMA6A</text></g>
<g id="t-HSP90AA1" transform="translate(792,515)"><use href="#v"/><text y="3.5">HSP90AA1</text></g>
<g id="t-NTRK2" transform="translate(834,515)"><use href="#v"/><text y="3.5">NTRK2</text></g>
<g id="t-PLA2G4A" transform="translate(376,536)"><use href="#v"/><text y="3.5">PLA2G4A</text></g>
<g id="t-FTO" transform="translate(418,536)"><use href="#v"/><text y="3.5">FTO</text></g>
<g id="t-CP" transform="translate(459,536)"><use href="#v"/><text y="3.5">CP</text></g>
<g id="t-ADRA1A" transform="translate(501,536)"><use href="#v"/><text y="3.5">ADRA1A</text></g>
<g id="t-FASLG" transform="translate(542,536)"><use href="#v"/><text y="3.5">FASLG</text></g>
<g id="t-VEGFA" transform="translate(584,536)"><use href="#v"/><text y="3.5">VEGFA</text></g>
<g id="t-CXCL1" transform="translate(626,536)"><use href="#v"/><text y="3.5">CXCL1</text></g>
<g id="t-MMP1" transform="translate(667,536)"><use href="#v"/><text y="3.5">MMP1</text></g>
<g id="t-ENO1" transform="translate(709,536)"><use href="#v"/><text y="3.5">ENO1</text></g>
<g id="t-CHIT1" transform="translate(750,536)"><use href="#v"/><text y="3.5">CHIT1</text></g>
<g id="t-ACE" transform="translate(792,536)"><use href="#v"/><text y="3.5">ACE</text></g>
<g id="t-CD83" transform="translate(834,536)"><use href="#v"/><text y="3.5">CD83</text></g>
<g id="t-MPO" transform="translate(376,556)"><use href="#v"/><text y="3.5">MPO</text></g>
<g id="t-ERBB3" transform="translate(418,556)"><use href="#v"/><text y="3.5">ERBB3</text></g>
<g id="t-CXCL11" transform="translate(459,556)"><use href="#v"/><text y="3.5">CXCL11</text></g>
<g id="t-ADRA1D" transform="translate(501,556)"><use href="#v"/><text y="3.5">ADRA1D</text></g>
<g id="t-NME8" transform="translate(542,556)"><use href="#v"/><text y="3.5">NME8</text></g>
<g id="t-MMP2" transform="translate(584,556)"><use href="#v"/><text y="3.5">MMP2</text></g>
<g id="t-SFTPA2" transform="translate(626,556)"><use href="#v"/><text y="3.5">SFTPA2</text></g>
<g id="t-VCAM1" transform="translate(667,556)"><use href="#v"/><text y="3.5">VCAM1</text></g>
<g id="t-AKR1D1" transform="translate(709,556)"><use href="#v"/><text y="3.5">AKR1D1</text></g>
<g id="t-SLC6A4" transform="translate(750,556)"><use href="#v"/><text y="3.5">SLC6A4</text></g>
<g id="t-LTF" transform="translate(792,556)"><use href="#v"/><text y="3.5">LTF</text></g>
<g id="t-CXCL5" transform="translate(834,556)"><use href="#v"/><text y="3.5">CXCL5</text></g>
</g>
<g id="ingredients">
<g id="ZC1" transform="translate(248,178)"><circle r="9"/><text y="3.5">ZC1</text></g>
<g id="ZC2" transform="translate(207,192)"><circle r="9"/><text y="3.5">ZC2</text></g>
<g id="ZC3" transform="translate(274,143)"><circle r="9"/><text y="3.5">ZC3</text></g>
<g id="ZC4" transform="translate(274,99)"><circle r="9"/><text y="3.5">ZC4</text></g>
<g id="ZC5" transform="translate(248,63)"><circle r="9"/><text y="3.5">ZC5</text></g>
<g id="ZC6" transform="translate(207,50)"><circle r="9"/><text y="3.5">ZC6</text></g>
<g id="ZC7" transform="translate(166,63)"><circle r="9"/><text y="3.5">ZC7</text></g>
<g id="ZC8" transform="translate(140,99)"><circle r="9"/><text y="3.5">ZC8</text></g>
<g id="ZC9" transform="translate(140,143)"><circle r="9"/><text y="3.5">ZC9</text></g>
<g id="ZC10" transform="translate(166,178)"><circle r="9"/><text y="3.5">ZC10</text></g>
<g id="HQ1" transform="translate(394,179)"><circle r="9"/><text y="3.5">HQ1</text></g>
<g id="HQ2" transform="translate(424,172)"><circle r="9"/><text y="3.5">HQ2</text></g>
<g id="HQ3" transform="translate(452,154)"><circle r="9"/><text y="3.5">HQ3</text></g>
<g id="HQ4" transform="translate(469,128)"><circle r="9"/><text y="3.5">HQ4</text></g>
<g id="HQ5" transform="translate(476,97)"><circle r="9"/><text y="3.5">HQ5</text></g>
<g id="HQ6" transform="translate(469,65)"><circle r="9"/><text y="3.5">HQ6</text></g>
<g id="HQ7" transform="translate(452,38)"><circle r="9"/><text y="3.5">HQ7</text></g>
<g id="HQ8" transform="translate(424,21)"><circle r="9"/><text y="3.5">HQ8</text></g>
<g id="HQ9" transform="translate(394,15)"><circle r="9"/><text y="3.5">HQ9</text></g>
<g id="HQ10" transform="translate(363,21)"><circle r="9"/><text y="3.5">HQ10</text></g>
<g id="HQ11" transform="translate(337,38)"><circle r="9"/><text y="3.5">HQ11</text></g>
<g id="HQ12" transform="translate(318,68)"><circle r="9"/><text y="3.5">HQ12</text></g>
<g id="HQ13" transform="translate(312,97)"><circle r="9"/><text y="3.5">HQ13</text></g>
<g id="HQ15" transform="translate(318,128)"><circle r="9"/><text y="3.5">HQ15</text></g>
<g id="HQ16" transform="translate(337,154)"><circle r="9"/><text y="3.5">HQ16</text></g>
<g id="HQ14" transform="translate(362,172)"><circle r="9"/><text y="3.5">HQ14</text></g>
<g id="MH1" transform="translate(604,247)"><circle r="9"/><text y="3.5">MH1</text></g>
<g id="MH2" transform="translate(634,243)"><circle r="9"/><text y="3.5">MH2</text></g>
<g id="MH3" transform="translate(662,229)"><circle r="9"/><text y="3.5">MH3</text></g>
<g id="MH4" transform="translate(685,209)"><circle r="9"/><text y="3.5">MH4</text></g>
<g id="MH5" transform="translate(700,182)"><circle r="9"/><text y="3.5">MH5</text></g>
<g id="MH6" transform="translate(707,152)"><circle r="9"/><text y="3.5">MH6</text></g>
<g id="MH7" transform="translate(704,121)"><circle r="9"/><text y="3.5">MH7</text></g>
<g id="MH8" transform="translate(693,92)"><circle r="9"/><text y="3.5">MH8</text></g>
<g id="MH9" transform="translate(674,68)"><circle r="9"/><text y="3.5">MH9</text></g>
<g id="MH10" transform="translate(649,51)"><circle r="9"/><text y="3.5">MH10</text></g>
<g id="MH11" transform="translate(620,42)"><circle r="9"/><text y="3.5">MH11</text></g>
<g id="MH12" transform="translate(589,42)"><circle r="9"/><text y="3.5">MH12</text></g>
<g id="MH13" transform="translate(559,51)"><circle r="9"/><text y="3.5">MH13</text></g>
<g id="MH14" transform="translate(534,68)"><circle r="9"/><text y="3.5">MH14</text></g>
<g id="MH15" transform="translate(515,92)"><circle r="9"/><text y="3.5">MH15</text></g>
<g id="MH16" transform="translate(504,121)"><circle r="9"/><text y="3.5">MH16</text></g>
<g id="MH17" transform="translate(502,154)"><circle r="9"/><text y="3.5">MH17</text></g>
<g id="MH18" transform="translate(509,182)"><circle r="9"/><text y="3.5">MH18</text></g>
<g id="MH19" transform="translate(524,208)"><circle r="9"/><text y="3.5">MH19</text></g>
<g id="MH20" transform="translate(546,229)"><circle r="9"/><text y="3.5">MH20</text></g>
<g id="MH21" transform="translate(573,242)"><circle r="9"/><text y="3.5">MH21</text></g>
<g id="FF1" transform="translate(842,173)"><circle r="9"/><text y="3.5">FF1</text></g>
<g id="FF2" transform="translate(867,159)"><circle r="9"/><text y="3.5">FF2</text></g>
<g id="FF3" transform="translate(886,137)"><circle r="9"/><text y="3.5">FF3</text></g>
<g id="FF4" transform="translate(896,110)"><circle r="9"/><text y="3.5">FF4</text></g>
<g id="FF5" transform="translate(896,81)"><circle r="9"/><text y="3.5">FF5</text></g>
<g id="FF6" transform="translate(886,54)"><circle r="9"/><text y="3.5">FF6</text></g>
<g id="FF7" transform="translate(867,32)"><circle r="9"/><text y="3.5">FF7</text></g>
<g id="FF8" transform="translate(842,17)"><circle r="9"/><text y="3.5">FF8</text></g>
<g id="FF9" transform="translate(814,13)"><circle r="9"/><text y="3.5">FF9</text></g>
<g id="FF10" transform="translate(785,17)"><circle r="9"/><text y="3.5">FF10</text></g>
<g id="FF11" transform="translate(760,32)"><circle r="9"/><text y="3.5">FF11</text></g>
<g id="FF12" transform="translate(743,54)"><circle r="9"/><text y="3.5">FF12</text></g>
<g id="FF13" transform="translate(733,81)"><circle r="9"/><text y="3.5">FF13</text></g>
<g id="FF14" transform="translate(733,110)"><circle r="9"/><text y="3.5">FF14</text></g>
<g id="FF15" transform="translate(743,137)"><circle r="9"/><text y="3.5">FF15</text></g>
<g id="FF16" transform="translate(762,159)"><circle r="9"/><text y="3.5">FF16</text></g>
<g id="FF18" transform="translate(788,173)"><circle r="9"/><text y="3.5">FF18</text></g>
<g id="FF17" transform="translate(816,179)"><circle r="9"/><text y="3.5">FF17</text></g>
<g id="BX1" transform="translate(1008,193)"><circle r="9"/><text y="3.5">BX1</text></g>
<g id="BX2" transform="translate(1047,182)"><circle r="9"/><text y="3.5">BX2</text></g>
<g id="BX3" transform="translate(1073,151)"><circle r="9"/><text y="3.5">BX3</text></g>
<g id="BX4" transform="translate(1079,110)"><circle r="9"/><text y="3.5">BX4</text></g>
<g id="BX5" transform="translate(1062,74)"><circle r="9"/><text y="3.5">BX5</text></g>
<g id="BX6" transform="translate(1028,52)"><circle r="9"/><text y="3.5">BX6</text></g>
<g id="BX7" transform="translate(988,52)"><circle r="9"/><text y="3.5">BX7</text></g>
<g id="BX8" transform="translate(953,74)"><circle r="9"/><text y="3.5">BX8</text></g>
<g id="BX9" transform="translate(937,110)"><circle r="9"/><text y="3.5">BX9</text></g>
<g id="BX10" transform="translate(942,151)"><circle r="9"/><text y="3.5">BX10</text></g>
<g id="BX11" transform="translate(969,182)"><circle r="9"/><text y="3.5">BX11</text></g>
<g id="XX1" transform="translate(86,323)"><circle r="9"/><text y="3.5">XX1</text></g>
<g id="XX2" transform="translate(133,303)"><circle r="9"/><text y="3.5">XX2</text></g>
<g id="XX3" transform="translate(153,256)"><circle r="9"/><text y="3.5">XX3</text></g>
<g id="XX4" transform="translate(133,208)"><circle r="9"/><text y="3.5">XX4</text></g>
<g id="XX5" transform="translate(86,188)"><circle r="9"/><text y="3.5">XX5</text></g>
<g id="XX6" transform="translate(38,208)"><circle r="9"/><text y="3.5">XX6</text></g>
<g id="XX7" transform="translate(19,256)"><circle r="9"/><text y="3.5">XX7</text></g>
<g id="XX8" transform="translate(38,303)"><circle r="9"/><text y="3.5">XX8</text></g>
<g id="BS1" transform="translate(89,478)"><circle r="9"/><text y="3.5">BS1</text></g>
<g id="BS2" transform="translate(129,461)"><circle r="9"/><text y="3.5">BS2</text></g>
<g id="BS3" transform="translate(146,420)"><circle r="9"/><text y="3.5">BS3</text></g>
<g id="BS4" transform="translate(129,379)"><circle r="9"/><text y="3.5">BS4</text></g>
<g id="BS5" transform="translate(89,362)"><circle r="9"/><text y="3.5">BS5</text></g>
<g id="BS6" transform="translate(48,379)"><circle r="9"/><text y="3.5">BS6</text></g>
<g id="BS7" transform="translate(31,420)"><circle r="9"/><text y="3.5">BS7</text></g>
<g id="BS8" transform="translate(48,461)"><circle r="9"/><text y="3.5">BS8</text></g>
<g id="DL1" transform="translate(151,514)"><circle r="9"/><text y="3.5">DL1</text></g>
<g id="DL2" transform="translate(118,527)"><circle r="9"/><text y="3.5">DL2</text></g>
<g id="DL3" transform="translate(105,560)"><circle r="9"/><text y="3.5">DL3</text></g>
<g id="DL4" transform="translate(118,592)"><circle r="9"/><text y="3.5">DL4</text></g>
<g id="DL5" transform="translate(151,605)"><circle r="9"/><text y="3.5">DL5</text></g>
<g id="DL6" transform="translate(183,592)"><circle r="9"/><text y="3.5">DL6</text></g>
<g id="DL7" transform="translate(197,560)"><circle r="9"/><text y="3.5">DL7</text></g>
<g id="DL8" transform="translate(183,527)"><circle r="9"/><text y="3.5">DL8</text></g>
<g id="CT1" transform="translate(1117,322)"><circle r="9"/><text y="3.5">CT1</text></g>
<g id="CT2" transform="translate(1154,310)"><circle r="9"/><text y="3.5">CT2</text></g>
<g id="CT3" transform="translate(1178,277)"><circle r="9"/><text y="3.5">CT3</text></g>
<g id="CT4" transform="translate(1178,237)"><circle r="9"/><text y="3.5">CT4</text></g>
<g id="CT5" transform="translate(1155,204)"><circle r="9"/><text y="3.5">CT5</text></g>
<g id="CT6" transform="translate(1078,310)"><circle r="9"/><text y="3.5">CT6</text></g>
<g id="CT7" transform="translate(1117,192)"><circle r="9"/><text y="3.5">CT7</text></g>
<g id="CT8" transform="translate(1079,204)"><circle r="9"/><text y="3.5">CT8</text></g>
<g id="CT9" transform="translate(1055,237)"><circle r="9"/><text y="3.5">CT9</text></g>
<g id="CT10" transform="translate(1055,277)"><circle r="9"/><text y="3.5">CT10</text></g>
<g id="JL1" transform="translate(1114,470)"><circle r="9"/><text y="3.5">JL1</text></g>
<g id="JL2" transform="translate(1153,453)"><circle r="9"/><text y="3.5">JL2</text></g>
<g id="JL3" transform="translate(1170,414)"><circle r="9"/><text y="3.5">JL3</text></g>
<g id="JL4" transform="translate(1153,375)"><circle r="9"/><text y="3.5">JL4</text></g>
<g id="JL5" transform="translate(1114,358)"><circle r="9"/><text y="3.5">JL5</text></g>
<g id="JL6" transform="translate(1074,375)"><circle r="9"/><text y="3.5">JL6</text></g>
<g id="JL7" transform="translate(1058,414)"><circle r="9"/><text y="3.5">JL7</text></g>
<g id="JL8" transform="translate(1074,453)"><circle r="9"/><text y="3.5">JL8</text></g>
<g id="MHL1" transform="translate(1069,593)"><circle r="9"/><text y="3.5">MHL1</text></g>
<g id="MHL2" transform="translate(1037,580)"><circle r="9"/><text y="3.5">MHL2</text></g>
<g id="MHL3" transform="translate(1101,580)"><circle r="9"/><text y="3.5">MHL3</text></g>
<g id="MHL4" transform="translate(1114,547)"><circle r="9"/><text y="3.5">MHL4</text></g>
<g id="MHL5" transform="translate(1101,516)"><circle r="9"/><text y="3.5">MHL5</text></g>
<g id="MHL6" transform="translate(1069,503)"><circle r="9"/><text y="3.5">MHL6</text></g>
<g id="MHL7" transform="translate(1037,516)"><circle r="9"/><text y="3.5">MHL7</text></g>
<g id="MHL8" transform="translate(1023,547)"><circle r="9"/><text y="3.5">MHL8</text></g>
<g id="WWZ1" transform="translate(1008,647)"><circle r="9"/><text y="3.5">WWZ1</text></g>
<g id="WWZ3" transform="translate(973,690)"><circle r="9"/><text y="3.5">WWZ3</text></g>
<g id="WWZ5" transform="translate(939,647)"><circle r="9"/><text y="3.5">WWZ5</text></g>
<g id="WWZ6" transform="translate(946,677)"><circle r="9"/><text y="3.5">WWZ6</text></g>
<g id="WWZ7" transform="translate(1002,677)"><circle r="9"/><text y="3.5">WWZ7</text></g>
<g id="WWZ2" transform="translate(989,623)"><circle r="9"/><text y="3.5">WWZ2</text></g>
<g id="WWZ4" transform="translate(959,623)"><circle r="9"/><text y="3.5">WWZ4</text></g>
<g id="CX1" transform="translate(854,757)"><circle r="9"/><text y="3.5">CX1</text></g>
<g id="CX2" transform="translate(883,741)"><circle r="9"/><text y="3.5">CX2</text></g>
<g id="CX3" transform="translate(883,707)"><circle r="9"/><text y="3.5">CX3</text></g>
<g id="CX4" transform="translate(854,691)"><circle r="9"/><text y="3.5">CX4</text></g>
<g id="CX5" transform="translate(825,707)"><circle r="9"/><text y="3.5">CX5</text></g>
<g id="CX6" transform="translate(825,741)"><circle r="9"/><text y="3.5">CX6</text></g>
<g id="DG1" transform="translate(767,773)"><circle r="9"/><text y="3.5">DG1</text></g>
<g id="DG2" transform="translate(767,725)"><circle r="9"/><text y="3.5">DG2</text></g>
<g id="GZ1" transform="translate(250,694)"><circle r="9"/><text y="3.5">GZ1</text></g>
<g id="GZ2" transform="translate(281,676)"><circle r="9"/><text y="3.5">GZ2</text></g>
<g id="GZ3" transform="translate(281,640)"><circle r="9"/><text y="3.5">GZ3</text></g>
<g id="GZ4" transform="translate(250,622)"><circle r="9"/><text y="3.5">GZ4</text></g>
<g id="GZ5" transform="translate(218,640)"><circle r="9"/><text y="3.5">GZ5</text></g>
<g id="GZ6" transform="translate(218,676)"><circle r="9"/><text y="3.5">GZ6</text></g>
<g id="GJ1" transform="translate(343,746)"><circle r="9"/><text y="3.5">GJ1</text></g>
<g id="GJ2" transform="translate(372,725)"><circle r="9"/><text y="3.5">GJ2</text></g>
<g id="GJ3" transform="translate(361,690)"><circle r="9"/><text y="3.5">GJ3</text></g>
<g id="GJ4" transform="translate(324,690)"><circle r="9"/><text y="3.5">GJ4</text></g>
<g id="GJ5" transform="translate(313,725)"><circle r="9"/><text y="3.5">GJ5</text></g>
<g id="BZ1" transform="translate(433,774)"><circle r="9"/><text y="3.5">BZ1</text></g>
<g id="BZ2" transform="translate(459,748)"><circle r="9"/><text y="3.5">BZ2</text></g>
<g id="BZ3" transform="translate(433,723)"><circle r="9"/><text y="3.5">BZ3</text></g>
<g id="BZ4" transform="translate(408,748)"><circle r="9"/><text y="3.5">BZ4</text></g>
<g id="GC1" transform="translate(574,652)"><circle r="9"/><text y="3.5">GC1</text></g>
<g id="GC2" transform="translate(556,658)"><circle r="9"/><text y="3.5">GC2</text></g>
<g id="GC3" transform="translate(539,668)"><circle r="9"/><text y="3.5">GC3</text></g>
<g id="GC4" transform="translate(524,682)"><circle r="9"/><text y="3.5">GC4</text></g>
<g id="GC5" transform="translate(512,697)"><circle r="9"/><text y="3.5">GC5</text></g>
<g id="GC6" transform="translate(502,715)"><circle r="9"/><text y="3.5">GC6</text></g>
<g id="GC7" transform="translate(495,733)"><circle r="9"/><text y="3.5">GC7</text></g>
<g id="GC8" transform="translate(492,753)"><circle r="9"/><text y="3.5">GC8</text></g>
<g id="GC9" transform="translate(493,773)"><circle r="9"/><text y="3.5">GC9</text></g>
<g id="GC10" transform="translate(498,793)"><circle r="9"/><text y="3.5">GC10</text></g>
<g id="GC11" transform="translate(507,811)"><circle r="9"/><text y="3.5">GC11</text></g>
<g id="GC12" transform="translate(515,827)"><circle r="9"/><text y="3.5">GC12</text></g>
<g id="GC13" transform="translate(531,841)"><circle r="9"/><text y="3.5">GC13</text></g>
<g id="GC14" transform="translate(547,853)"><circle r="9"/><text y="3.5">GC14</text></g>
<g id="GC15" transform="translate(565,862)"><circle r="9"/><text y="3.5">GC15</text></g>
<g id="GC16" transform="translate(585,867)"><circle r="9"/><text y="3.5">GC16</text></g>
<g id="GC63" transform="translate(606,868)"><circle r="9"/><text y="3.5">GC63</text></g>
<g id="GC64" transform="translate(625,867)"><circle r="9"/><text y="3.5">GC64</text></g>
<g id="GC65" transform="translate(643,861)"><circle r="9"/><text y="3.5">GC65</text></g>
<g id="GC66" transform="translate(661,853)"><circle r="9"/><text y="3.5">GC66</text></g>
<g id="GC67" transform="translate(677,841)"><circle r="9"/><text y="3.5">GC67</text></g>
<g id="GC68" transform="translate(692,827)"><circle r="9"/><text y="3.5">GC68</text></g>
<g id="GC69" transform="translate(702,811)"><circle r="9"/><text y="3.5">GC69</text></g>
<g id="GC71" transform="translate(710,793)"><circle r="9"/><text y="3.5">GC71</text></g>
<g id="GC72" transform="translate(713,773)"><circle r="9"/><text y="3.5">GC72</text></g>
<g id="GC73" transform="translate(715,753)"><circle r="9"/><text y="3.5">GC73</text></g>
<g id="GC74" transform="translate(712,733)"><circle r="9"/><text y="3.5">GC74</text></g>
<g id="GC75" transform="translate(707,715)"><circle r="9"/><text y="3.5">GC75</text></g>
<g id="GC77" transform="translate(700,697)"><circle r="9"/><text y="3.5">GC77</text></g>
<g id="GC78" transform="translate(685,681)"><circle r="9"/><text y="3.5">GC78</text></g>
<g id="GC79" transform="translate(669,668)"><circle r="9"/><text y="3.5">GC79</text></g>
<g id="GC80" transform="translate(652,658)"><circle r="9"/><text y="3.5">GC80</text></g>
<g id="GC81" transform="translate(633,652)"><circle r="9"/><text y="3.5">GC81</text></g>
<g id="GC82" transform="translate(613,648)"><circle r="9"/><text y="3.5">GC82</text></g>
<g id="GC83" transform="translate(593,648)"><circle r="9"/><text y="3.5">GC83</text></g>
<g id="GC28" transform="translate(583,667)"><circle r="9"/><text y="3.5">GC28</text></g>
<g id="GC27" transform="translate(603,665)"><circle r="9"/><text y="3.5">GC27</text></g>
<g id="GC26" transform="translate(623,667)"><circle r="9"/><text y="3.5">GC26</text></g>
<g id="GC25" transform="translate(642,673)"><circle r="9"/><text y="3.5">GC25</text></g>
<g id="GC24" transform="translate(657,683)"><circle r="9"/><text y="3.5">GC24</text></g>
<g id="GC23" transform="translate(672,696)"><circle r="9"/><text y="3.5">GC23</text></g>
<g id="GC22" transform="translate(683,711)"><circle r="9"/><text y="3.5">GC22</text></g>
<g id="GC21" transform="translate(693,728)"><circle r="9"/><text y="3.5">GC21</text></g>
<g id="GC20" transform="translate(698,748)"><circle r="9"/><text y="3.5">GC20</text></g>
<g id="GC19" transform="translate(698,767)"><circle r="9"/><text y="3.5">GC19</text></g>
<g id="GC76" transform="translate(693,786)"><circle r="9"/><text y="3.5">GC76</text></g>
<g id="GC70" transform="translate(687,804)"><circle r="9"/><text y="3.5">GC70</text></g>
<g id="GC88" transform="translate(672,820)"><circle r="9"/><text y="3.5">GC88</text></g>
<g id="GC87" transform="translate(659,833)"><circle r="9"/><text y="3.5">GC87</text></g>
<g id="GC86" transform="translate(642,843)"><circle r="9"/><text y="3.5">GC86</text></g>
<g id="GC85" transform="translate(624,850)"><circle r="9"/><text y="3.5">GC85</text></g>
<g id="GC84" transform="translate(605,852)"><circle r="9"/><text y="3.5">GC84</text></g>
<g id="GC41" transform="translate(585,849)"><circle r="9"/><text y="3.5">GC41</text></g>
<g id="GC40" transform="translate(566,843)"><circle r="9"/><text y="3.5">GC40</text></g>
<g id="GC39" transform="translate(549,833)"><circle r="9"/><text y="3.5">GC39</text></g>
<g id="GC38" transform="translate(535,821)"><circle r="9"/><text y="3.5">GC38</text></g>
<g id="GC37" transform="translate(523,805)"><circle r="9"/><text y="3.5">GC37</text></g>
<g id="GC36" transform="translate(516,787)"><circle r="9"/><text y="3.5">GC36</text></g>
<g id="GC35" transform="translate(512,767)"><circle r="9"/><text y="3.5">GC35</text></g>
<g id="GC34" transform="translate(511,748)"><circle r="9"/><text y="3.5">GC34</text></g>
<g id="GC33" transform="translate(513,729)"><circle r="9"/><text y="3.5">GC33</text></g>
<g id="GC32" transform="translate(521,711)"><circle r="9"/><text y="3.5">GC32</text></g>
<g id="GC31" transform="translate(533,696)"><circle r="9"/><text y="3.5">GC31</text></g>
<g id="GC30" transform="translate(547,683)"><circle r="9"/><text y="3.5">GC30</text></g>
<g id="GC29" transform="translate(563,673)"><circle r="9"/><text y="3.5">GC29</text></g>
<g id="GC49" transform="translate(573,690)"><circle r="9"/><text y="3.5">GC49</text></g>
<g id="GC48" transform="translate(593,685)"><circle r="9"/><text y="3.5">GC48</text></g>
<g id="GC47" transform="translate(613,685)"><circle r="9"/><text y="3.5">GC47</text></g>
<g id="GC46" transform="translate(633,691)"><circle r="9"/><text y="3.5">GC46</text></g>
<g id="GC45" transform="translate(650,700)"><circle r="9"/><text y="3.5">GC45</text></g>
<g id="GC44" transform="translate(664,717)"><circle r="9"/><text y="3.5">GC44</text></g>
<g id="GC43" transform="translate(673,734)"><circle r="9"/><text y="3.5">GC43</text></g>
<g id="GC42" transform="translate(677,754)"><circle r="9"/><text y="3.5">GC42</text></g>
<g id="GC18" transform="translate(674,774)"><circle r="9"/><text y="3.5">GC18</text></g>
<g id="GC17" transform="translate(665,793)"><circle r="9"/><text y="3.5">GC17</text></g>
<g id="GC62" transform="translate(657,810)"><circle r="9"/><text y="3.5">GC62</text></g>
<g id="GC61" transform="translate(643,822)"><circle r="9"/><text y="3.5">GC61</text></g>
<g id="GC60" transform="translate(624,829)"><circle r="9"/><text y="3.5">GC60</text></g>
<g id="GC59" transform="translate(606,832)"><circle r="9"/><text y="3.5">GC59</text></g>
<g id="GC58" transform="translate(587,829)"><circle r="9"/><text y="3.5">GC58</text></g>
<g id="GC57" transform="translate(566,822)"><circle r="9"/><text y="3.5">GC57</text></g>
<g id="GC56" transform="translate(550,810)"><circle r="9"/><text y="3.5">GC56</text></g>
<g id="GC55" transform="translate(538,793)"><circle r="9"/><text y="3.5">GC55</text></g>
<g id="GC54" transform="translate(532,774)"><circle r="9"/><text y="3.5">GC54</text></g>
<g id="GC53" transform="translate(531,754)"><circle r="9"/><text y="3.5">GC53</text></g>
<g id="GC52" transform="translate(533,734)"><circle r="9"/><text y="3.5">GC52</text></g>
<g id="GC51" transform="translate(542,717)"><circle r="9"/><text y="3.5">GC51</text></g>
<g id="GC50" transform="translate(557,700)"><circle r="9"/><text y="3.5">GC50</text></g>
</g>
<g id="herbs" class="h">
<g id="ZC" transform="translate(207,120)"><rect x="-9" y="-9" width="18" height="18"/><text y="3.5">ZC</text></g>
<g id="HQ" transform="translate(394,98)"><rect x="-9" y="-9" width="18" height="18"/><text y="3.5">HQ</text></g>
<g id="MH" transform="translate(603,144)"><rect x="-10" y="-9" width="20" height="18"/><text y="3.5">MH</text></g>
<g id="FF" transform="translate(813,93)"><rect x="-9" y="-9" width="18" height="18"/><text y="3.5">FF</text></g>
<g id="BX" transform="translate(1007,116)"><rect x="-9" y="-9" width="18" height="18"/><text y="3.5">BX</text></g>
<g id="XX" transform="translate(85,254)"><rect x="-9" y="-9" width="18" height="18"/><text y="3.5">XX</text></g>
<g id="BS" transform="translate(90,421)"><rect x="-9" y="-9" width="18" height="18"/><text y="3.5">BS</text></g>
<g id="DL" transform="translate(152,558)"><rect x="-9" y="-9" width="18" height="18"/><text y="3.5">DL</text></g>
<g id="CT" transform="translate(1117,258)"><rect x="-9" y="-9" width="18" height="18"/><text y="3.5">CT</text></g>
<g id="JL" transform="translate(1114,414)"><rect x="-9" y="-9" width="18" height="18"/><text y="3.5">JL</text></g>
<g id="MHL" transform="translate(1069,544)"><rect x="-9" y="-9" width="18" height="18"/><text y="3.5">MHL</text></g>
<g id="WWZ" transform="translate(973,657)"><rect x="-9" y="-9" width="18" height="18"/><text y="3.5">WWZ</text></g>
<g id="CX" transform="translate(853,723)"><rect x="-9" y="-9" width="18" height="18"/><text y="3.5">CX</text></g>
<g id="DG" transform="translate(767,749)"><rect x="-9" y="-9" width="18" height="18"/><text y="3.5">DG</text></g>
<g id="GZ" transform="translate(248,659)"><rect x="-9" y="-9" width="18" height="18"/><text y="3.5">GZ</text></g>
<g id="GJ" transform="translate(343,717)"><rect x="-9" y="-9" width="18" height="18"/><text y="3.5">GJ</text></g>
<g id="BZ" transform="translate(433,748)"><rect x="-9" y="-9" width="18" height="18"/><text y="3.5">BZ</text></g>
<g id="GC" transform="translate(605,753)"><rect x="-9" y="-9" width="18" height="18"/><text y="3.5">GC</text></g>
</g>
<text class="cap" x="599" y="906">(c)</text>
</svg>
